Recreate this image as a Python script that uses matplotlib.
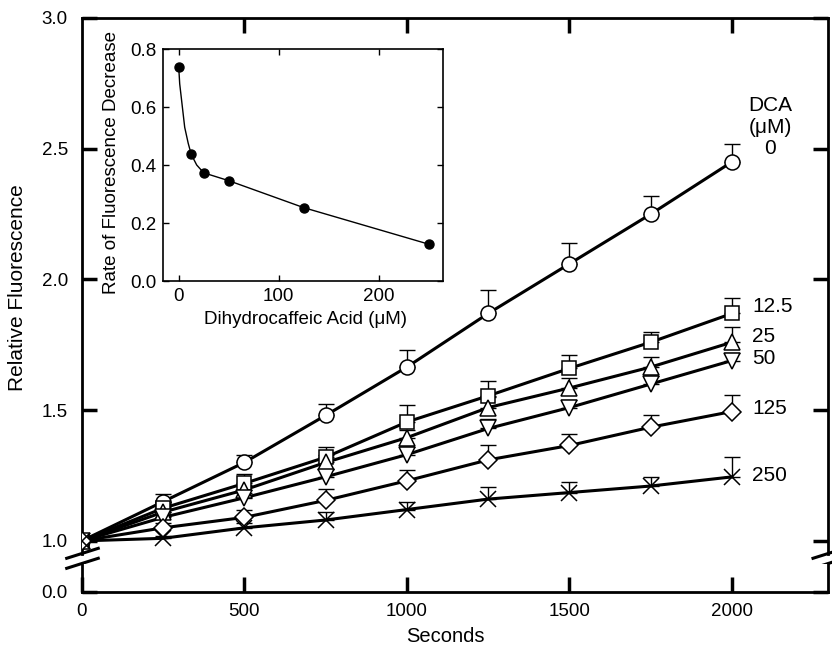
import matplotlib
matplotlib.use('Agg')
import matplotlib.pyplot as plt
from matplotlib.lines import Line2D
import numpy as np

plt.rcParams['font.family'] = ['Liberation Sans', 'DejaVu Sans']

# time course, relative fluorescence for each DCA concentration (uM)
seconds = [0, 250, 500, 750, 1000, 1250, 1500, 1750, 2000]
dca_0 = [1.0, 1.15, 1.30, 1.48, 1.665, 1.87, 2.06, 2.25, 2.45]
dca_12_5 = [1.0, 1.125, 1.22, 1.32, 1.455, 1.555, 1.66, 1.76, 1.87]
dca_25 = [1.0, 1.11, 1.195, 1.30, 1.395, 1.51, 1.585, 1.665, 1.76]
dca_50 = [1.0, 1.09, 1.165, 1.245, 1.33, 1.43, 1.51, 1.60, 1.69]
dca_125 = [1.0, 1.05, 1.09, 1.155, 1.23, 1.31, 1.365, 1.435, 1.495]
dca_250 = [1.0, 1.01, 1.05, 1.08, 1.12, 1.16, 1.185, 1.21, 1.245]

# upper error bars (SD)
err_0 = [0, 0.03, 0.03, 0.045, 0.065, 0.09, 0.08, 0.07, 0.07]
err_12_5 = [0, 0.025, 0.035, 0.04, 0.065, 0.055, 0.05, 0.04, 0.06]
err_25 = [0, 0.02, 0.02, 0.03, 0.03, 0.04, 0.04, 0.04, 0.06]
err_50 = [0, 0.02, 0.02, 0.03, 0.03, 0.035, 0.03, 0.03, 0.03]
err_125 = [0, 0.02, 0.03, 0.045, 0.04, 0.055, 0.045, 0.045, 0.065]
err_250 = [0, 0.01, 0.02, 0.03, 0.03, 0.045, 0.04, 0.035, 0.075]

series_labels = ['0', '12.5', '25', '50', '125', '250']

# inset: rate of fluorescence decrease vs DCA concentration
inset_conc = [0, 12.5, 25, 50, 125, 250]
inset_rate = [0.739, 0.437, 0.373, 0.346, 0.253, 0.127]
# fitted curve
curve_conc = [0, 1, 3, 6, 9.5, 12.5, 18, 25, 50, 125, 250]
curve_rate = [0.739, 0.68, 0.62, 0.53, 0.475, 0.437, 0.40, 0.373, 0.346, 0.253, 0.127]

W, H = 832, 648
fig = plt.figure(figsize=(W / 100, H / 100), dpi=100)

def box(x0, y0, x1, y1):
    # pixel box -> figure fraction
    return [x0 / W, 1 - y1 / H, (x1 - x0) / W, (y1 - y0) / H]

ax = fig.add_axes(box(81.7, 18, 828, 554))
ax_low = fig.add_axes(box(81.7, 564, 828, 592))

styles = [('o', 10.8), ('s', 9.6), ('^', 12), ('v', 12), ('D', 9.5), ('x', 12)]
data = [(dca_0, err_0), (dca_12_5, err_12_5), (dca_25, err_25),
        (dca_50, err_50), (dca_125, err_125), (dca_250, err_250)]

for (vals, err), (m, ms) in zip(data, styles):
    ax.plot(seconds, vals, color='black', lw=2.2, zorder=2)
    ax.errorbar(seconds[1:], vals[1:], yerr=[np.zeros(len(err) - 1), err[1:]],
                fmt='none', ecolor='black', elinewidth=1, capsize=5.5,
                capthick=1, zorder=3)
    ax.plot(seconds, vals, linestyle='none', marker=m, ms=ms,
            mfc='white', mec='black', mew=1.1, zorder=4)

xmax = 2295
for a in (ax, ax_low):
    a.set_xlim(0, xmax)
    for s in a.spines.values():
        s.set_linewidth(2.0)
    a.tick_params(direction='in', length=11, width=2.5, labelsize=13.5,
                  left=True, right=True)

ax.set_ylim(0.950, 3.0)
ax.spines['bottom'].set_visible(False)
ax.set_yticks([1.0, 1.5, 2.0, 2.5, 3.0])
ax.set_yticklabels(['1.0', '1.5', '2.0', '2.5', '3.0'])
ax.set_xticks([500, 1000, 1500, 2000])
ax.tick_params(axis='x', bottom=False, top=True, labelbottom=False)
ax.tick_params(axis='y', pad=10)

ax_low.set_ylim(0, 0.107)
ax_low.spines['top'].set_visible(False)
ax_low.set_yticks([0.0])
ax_low.set_yticklabels(['0.0'])
ax_low.set_xticks([0, 500, 1000, 1500, 2000])
ax_low.tick_params(axis='x', top=False, pad=8)
ax_low.tick_params(axis='y', pad=10)

# axis break marks
for xc in (0, 1):
    for y0, y1 in ((-0.008, 0.0106), (-0.0267, -0.008)):
        ax.add_line(Line2D([xc - 0.0201, xc + 0.0222], [y0, y1],
                           transform=ax.transAxes, color='black', lw=2.2,
                           clip_on=False))

fig.text(18 / W, 1 - 288 / H, 'Relative Fluorescence', rotation=90,
         ha='center', va='center', fontsize=15)
fig.text(445 / W, 1 - 636 / H, 'Seconds', ha='center', va='center',
         fontsize=14.5)

# series labels at the right
ax.text(2117, 2.583, 'DCA\n(\u03bcM)\n0', ha='center', va='center',
        fontsize=15, linespacing=1.15)
label_y = [1.895, 1.78, 1.696, 1.505, 1.252]
for lab, yy in zip(series_labels[1:], label_y):
    ax.text(2061, yy, lab, ha='left', va='center', fontsize=15)

# inset
ins = fig.add_axes(box(163, 49, 443, 281))
ins.plot(curve_conc, curve_rate, color='black', lw=1.0)
ins.plot(inset_conc, inset_rate, linestyle='none', marker='o', ms=6.5,
         color='black')
ins.set_xlim(-15.7, 264.3)
ins.set_ylim(0, 0.8)
ins.set_xticks([0, 100, 200])
ins.set_yticks([0, 0.2, 0.4, 0.6, 0.8])
ins.set_yticklabels(['0.0', '0.2', '0.4', '0.6', '0.8'])
for s in ins.spines.values():
    s.set_linewidth(1.2)
ins.tick_params(direction='in', length=4.5, width=1, labelsize=13.5,
                top=True, right=True, pad=5)
fig.text(112 / W, 1 - 163 / H, 'Rate of Fluorescence Decrease', rotation=90,
         ha='center', va='center', fontsize=13.5)
fig.text(306 / W, 1 - 320 / H, 'Dihydrocaffeic Acid (\u03bcM)',
         ha='center', va='center', fontsize=13.5)

fig.savefig('out.png', dpi=100)
